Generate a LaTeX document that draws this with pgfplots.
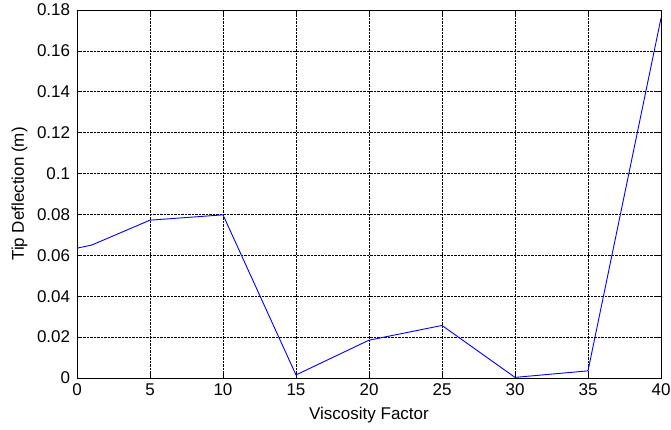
\documentclass[border=0pt]{standalone}
\usepackage{fontspec}
\setmainfont{Liberation Sans}
\usepackage{pgfplots}
\pgfplotsset{compat=1.18}
\begin{document}
\fontsize{17}{20}\selectfont
\begin{tikzpicture}
\begin{axis}[
  scale only axis,
  width=584pt, height=368pt,
  xmin=0, xmax=40, ymin=0, ymax=0.18,
  xtick={0,5,...,40},
  ytick={0,0.02,0.04,0.06,0.08,0.1,0.12,0.14,0.16,0.18},
  /pgf/number format/assume math mode=true,
  scaled y ticks=false,
  tick align=inside,
  tick pos=both,
  major tick length=5pt,
  grid=major,
  major grid style={black, densely dotted, line width=0.6pt},
  axis line style={black, line width=0.9pt},
  tick style={black, line width=0.6pt},
  xlabel={Viscosity Factor},
  ylabel={Tip Deflection (m)},
  xlabel style={yshift=0pt},
  ylabel style={yshift=-2pt},
  ticklabel style={font=\fontsize{17}{20}\selectfont},
  xticklabel style={yshift=0pt},
  yticklabel style={xshift=-1pt,/pgf/number format/.cd,fixed,precision=2},
  label style={font=\fontsize{17}{20}\selectfont},
]
\addplot[blue, line width=0.9pt] coordinates {
(0,0.0635) (1,0.065) (5,0.0772) (10,0.0798) (15,0.0015) (20,0.0185)
(25,0.0257) (30,0.0003) (35,0.0035) (40,0.176)
};
\end{axis}
\pgfresetboundingbox
\path[use as bounding box] ([xshift=-77pt,yshift=-52pt]current axis.south west) rectangle ([xshift=10pt,yshift=10pt]current axis.north east);
\end{tikzpicture}
\end{document}
